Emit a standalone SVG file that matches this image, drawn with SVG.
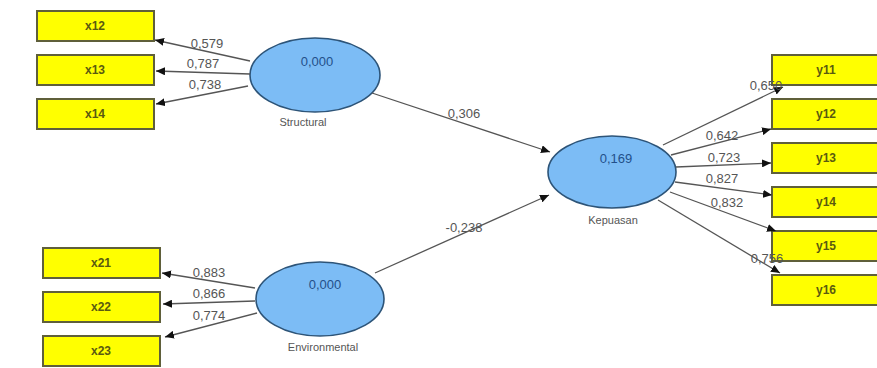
<svg xmlns="http://www.w3.org/2000/svg" width="877" height="368" viewBox="0 0 877 368">
<defs>
<marker id="ah" markerWidth="10" markerHeight="8" refX="9" refY="4" orient="auto" markerUnits="userSpaceOnUse"><path d="M0,0 L9,4 L0,8 z" fill="#111"/></marker>
<style>
.box{fill:#ffff00;stroke:#5f5f3a;stroke-width:2}
.btx{font-family:"Liberation Sans",Arial,sans-serif;font-size:12px;font-weight:bold;fill:#5a5a10;text-anchor:middle}
.lv{fill:#7cbcf5;stroke:#2d5478;stroke-width:1.6}
.val{font-family:"Liberation Sans",Arial,sans-serif;font-size:13px;fill:#23508a;text-anchor:middle}
.nm{font-family:"Liberation Sans",Arial,sans-serif;font-size:11px;fill:#555;text-anchor:middle}
.ln{stroke:#555;stroke-width:1.3;fill:none;marker-end:url(#ah)}
.lb{font-family:"Liberation Sans",Arial,sans-serif;font-size:13px;fill:#555;text-anchor:middle}
</style>
</defs>
<rect width="877" height="368" fill="#fff"/>
<g id="x12"><rect class="box" x="37" y="11" width="117" height="30"/><text class="btx" x="95" y="30">x12</text></g>
<g id="x13"><rect class="box" x="37" y="55" width="117" height="30"/><text class="btx" x="95" y="74">x13</text></g>
<g id="x14"><rect class="box" x="37" y="99" width="117" height="30"/><text class="btx" x="95" y="118">x14</text></g>
<g id="x21"><rect class="box" x="43" y="248" width="117" height="30"/><text class="btx" x="101" y="267">x21</text></g>
<g id="x22"><rect class="box" x="43" y="292" width="117" height="30"/><text class="btx" x="101" y="311">x22</text></g>
<g id="x23"><rect class="box" x="43" y="336" width="117" height="30"/><text class="btx" x="101" y="355">x23</text></g>
<g id="y11"><rect class="box" x="772" y="55" width="117" height="30"/><text class="btx" x="826" y="74">y11</text></g>
<g id="y12"><rect class="box" x="772" y="99" width="117" height="30"/><text class="btx" x="826" y="118">y12</text></g>
<g id="y13"><rect class="box" x="772" y="143" width="117" height="30"/><text class="btx" x="826" y="162">y13</text></g>
<g id="y14"><rect class="box" x="772" y="187" width="117" height="30"/><text class="btx" x="826" y="206">y14</text></g>
<g id="y15"><rect class="box" x="772" y="231" width="117" height="30"/><text class="btx" x="826" y="250">y15</text></g>
<g id="y16"><rect class="box" x="772" y="275" width="117" height="30"/><text class="btx" x="826" y="294">y16</text></g>
<g id="structural"><ellipse class="lv" cx="315" cy="75" rx="65" ry="37"/><text class="val" x="317" y="66">0,000</text><text class="nm" x="303" y="126">Structural</text></g>
<g id="environmental"><ellipse class="lv" cx="320" cy="299" rx="64" ry="37"/><text class="val" x="325" y="289">0,000</text><text class="nm" x="323" y="351">Environmental</text></g>
<g id="kepuasan"><ellipse class="lv" cx="612" cy="172" rx="64" ry="36"/><text class="val" x="616" y="163">0,169</text><text class="nm" x="613" y="224">Kepuasan</text></g>
<g id="connectors">
<line class="ln" x1="250" y1="61" x2="155" y2="40"/>
<line class="ln" x1="250" y1="74" x2="156" y2="71"/>
<line class="ln" x1="248" y1="86" x2="156" y2="104"/>
<line class="ln" x1="255" y1="288" x2="162" y2="273"/>
<line class="ln" x1="255" y1="301" x2="163" y2="304"/>
<line class="ln" x1="257" y1="313" x2="165" y2="337"/>
<line class="ln" x1="372" y1="93" x2="550" y2="152"/>
<line class="ln" x1="375" y1="273" x2="549" y2="195"/>
<line class="ln" x1="663" y1="145" x2="783" y2="87"/>
<line class="ln" x1="671" y1="155" x2="771" y2="129"/>
<line class="ln" x1="676" y1="167" x2="771" y2="163"/>
<line class="ln" x1="675" y1="182" x2="772" y2="195"/>
<line class="ln" x1="670" y1="192" x2="776" y2="231"/>
<line class="ln" x1="658" y1="200" x2="780" y2="273"/>
<text class="lb" x="207" y="48">0,579</text>
<text class="lb" x="203" y="68">0,787</text>
<text class="lb" x="205" y="89">0,738</text>
<text class="lb" x="209" y="277">0,883</text>
<text class="lb" x="209" y="298">0,866</text>
<text class="lb" x="209" y="320">0,774</text>
<text class="lb" x="464" y="118">0,306</text>
<text class="lb" x="464" y="232">-0,238</text>
<text class="lb" x="766" y="90">0,650</text>
<text class="lb" x="722" y="140">0,642</text>
<text class="lb" x="724" y="162">0,723</text>
<text class="lb" x="722" y="183">0,827</text>
<text class="lb" x="727" y="207">0,832</text>
<text class="lb" x="767" y="263">0,756</text>
</g>
</svg>
